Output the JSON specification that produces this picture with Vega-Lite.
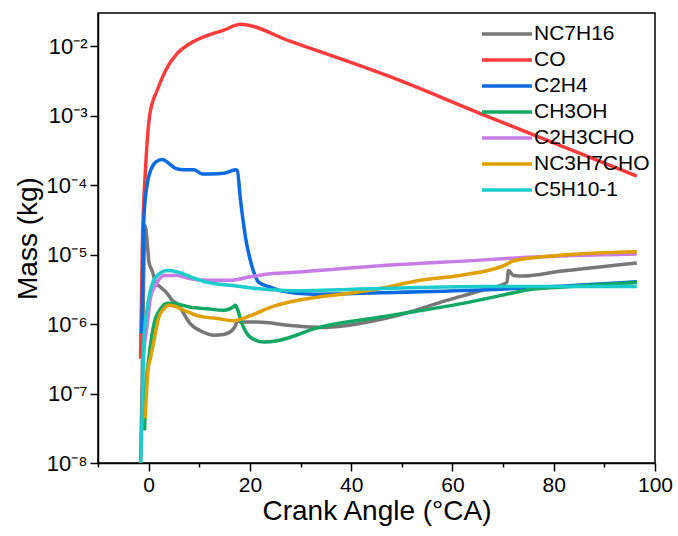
{
  "$schema": "https://vega.github.io/schema/vega-lite/v6.json",
  "width": 557,
  "height": 450,
  "autosize": {"type": "none"},
  "padding": {"left": 98, "top": 13, "right": 23, "bottom": 73},
  "background": "white",
  "config": {
    "font": "Liberation Sans",
    "view": {"stroke": "black", "strokeWidth": 1.5},
    "axis": {"grid": false, "domainColor": "black", "domainWidth": 1.5, "tickColor": "black", "tickWidth": 1.5, "labelColor": "black", "titleColor": "black", "labelFont": "Liberation Sans", "titleFont": "Liberation Sans", "titleFontWeight": "normal"}
  },
  "data": {
    "values": [
      {"s": "NC7H16", "x": -1.58, "y": 1.0e-8},
      {"s": "NC7H16", "x": -1.28, "y": 1.55e-7},
      {"s": "NC7H16", "x": -0.99, "y": 4.27e-6},
      {"s": "NC7H16", "x": -0.69, "y": 2.57e-5},
      {"s": "NC7H16", "x": -0.26, "y": 1.45e-5},
      {"s": "NC7H16", "x": 0.06, "y": 7.76e-6},
      {"s": "NC7H16", "x": 0.73, "y": 5.75e-6},
      {"s": "NC7H16", "x": 1.38, "y": 3.98e-6},
      {"s": "NC7H16", "x": 2.37, "y": 3.39e-6},
      {"s": "NC7H16", "x": 3.69, "y": 2.75e-6},
      {"s": "NC7H16", "x": 4.67, "y": 2.19e-6},
      {"s": "NC7H16", "x": 5.66, "y": 1.95e-6},
      {"s": "NC7H16", "x": 8.28, "y": 1.0e-6},
      {"s": "NC7H16", "x": 10.9, "y": 7.59e-7},
      {"s": "NC7H16", "x": 12.88, "y": 6.92e-7},
      {"s": "NC7H16", "x": 14.85, "y": 7.08e-7},
      {"s": "NC7H16", "x": 16.5, "y": 8.13e-7},
      {"s": "NC7H16", "x": 17.16, "y": 9.55e-7},
      {"s": "NC7H16", "x": 17.5, "y": 1.12e-6},
      {"s": "NC7H16", "x": 18.15, "y": 1.07e-6},
      {"s": "NC7H16", "x": 21.44, "y": 1.07e-6},
      {"s": "NC7H16", "x": 28.0, "y": 9.55e-7},
      {"s": "NC7H16", "x": 33.9, "y": 8.91e-7},
      {"s": "NC7H16", "x": 39.2, "y": 9.55e-7},
      {"s": "NC7H16", "x": 49.05, "y": 1.32e-6},
      {"s": "NC7H16", "x": 58.9, "y": 2.19e-6},
      {"s": "NC7H16", "x": 65.5, "y": 3.02e-6},
      {"s": "NC7H16", "x": 70.75, "y": 3.98e-6},
      {"s": "NC7H16", "x": 71.07, "y": 5.89e-6},
      {"s": "NC7H16", "x": 72.05, "y": 5.01e-6},
      {"s": "NC7H16", "x": 74.0, "y": 4.9e-6},
      {"s": "NC7H16", "x": 81.3, "y": 5.75e-6},
      {"s": "NC7H16", "x": 96.4, "y": 7.59e-6},

      {"s": "CO", "x": -1.6, "y": 3.16e-7},
      {"s": "CO", "x": -1.24, "y": 1.29e-5},
      {"s": "CO", "x": -0.59, "y": 1.82e-4},
      {"s": "CO", "x": 0.26, "y": 1.07e-3},
      {"s": "CO", "x": 1.72, "y": 2.34e-3},
      {"s": "CO", "x": 3.35, "y": 4.47e-3},
      {"s": "CO", "x": 5.66, "y": 7.85e-3},
      {"s": "CO", "x": 8.28, "y": 1.1e-2},
      {"s": "CO", "x": 10.9, "y": 1.36e-2},
      {"s": "CO", "x": 14.85, "y": 1.7e-2},
      {"s": "CO", "x": 18.15, "y": 2.06e-2},
      {"s": "CO", "x": 28.0, "y": 1.17e-2},
      {"s": "CO", "x": 47.7, "y": 3.63e-3},
      {"s": "CO", "x": 65.5, "y": 1.07e-3},
      {"s": "CO", "x": 96.4, "y": 1.35e-4},

      {"s": "C2H4", "x": -1.38, "y": 7.33e-7},
      {"s": "C2H4", "x": -1.24, "y": 2.19e-6},
      {"s": "C2H4", "x": -0.93, "y": 3.47e-5},
      {"s": "C2H4", "x": -0.26, "y": 1.05e-4},
      {"s": "C2H4", "x": 0.39, "y": 1.62e-4},
      {"s": "C2H4", "x": 1.38, "y": 2.14e-4},
      {"s": "C2H4", "x": 2.7, "y": 2.34e-4},
      {"s": "C2H4", "x": 3.69, "y": 2.14e-4},
      {"s": "C2H4", "x": 5.33, "y": 1.74e-4},
      {"s": "C2H4", "x": 6.96, "y": 1.66e-4},
      {"s": "C2H4", "x": 8.94, "y": 1.66e-4},
      {"s": "C2H4", "x": 10.59, "y": 1.45e-4},
      {"s": "C2H4", "x": 12.23, "y": 1.45e-4},
      {"s": "C2H4", "x": 14.85, "y": 1.48e-4},
      {"s": "C2H4", "x": 17.16, "y": 1.66e-4},
      {"s": "C2H4", "x": 17.5, "y": 1.62e-4},
      {"s": "C2H4", "x": 18.15, "y": 6.03e-5},
      {"s": "C2H4", "x": 19.13, "y": 1.78e-5},
      {"s": "C2H4", "x": 20.45, "y": 6.61e-6},
      {"s": "C2H4", "x": 21.76, "y": 3.98e-6},
      {"s": "C2H4", "x": 24.06, "y": 3.39e-6},
      {"s": "C2H4", "x": 26.04, "y": 3.02e-6},
      {"s": "C2H4", "x": 32.6, "y": 2.69e-6},
      {"s": "C2H4", "x": 45.8, "y": 2.82e-6},
      {"s": "C2H4", "x": 65.5, "y": 3.09e-6},
      {"s": "C2H4", "x": 96.4, "y": 4.07e-6},

      {"s": "CH3OH", "x": -0.79, "y": 2.95e-8},
      {"s": "CH3OH", "x": -0.59, "y": 1.1e-7},
      {"s": "CH3OH", "x": 0.06, "y": 3.31e-7},
      {"s": "CH3OH", "x": 1.05, "y": 1.0e-6},
      {"s": "CH3OH", "x": 2.37, "y": 1.66e-6},
      {"s": "CH3OH", "x": 3.69, "y": 2.0e-6},
      {"s": "CH3OH", "x": 5.66, "y": 1.95e-6},
      {"s": "CH3OH", "x": 8.28, "y": 1.74e-6},
      {"s": "CH3OH", "x": 11.58, "y": 1.66e-6},
      {"s": "CH3OH", "x": 14.85, "y": 1.58e-6},
      {"s": "CH3OH", "x": 16.77, "y": 1.78e-6},
      {"s": "CH3OH", "x": 17.16, "y": 1.86e-6},
      {"s": "CH3OH", "x": 17.5, "y": 1.66e-6},
      {"s": "CH3OH", "x": 18.48, "y": 1.0e-6},
      {"s": "CH3OH", "x": 20.1, "y": 6.46e-7},
      {"s": "CH3OH", "x": 22.74, "y": 5.5e-7},
      {"s": "CH3OH", "x": 25.4, "y": 5.75e-7},
      {"s": "CH3OH", "x": 28.0, "y": 6.46e-7},
      {"s": "CH3OH", "x": 32.6, "y": 8.51e-7},
      {"s": "CH3OH", "x": 45.8, "y": 1.26e-6},
      {"s": "CH3OH", "x": 61.5, "y": 1.95e-6},
      {"s": "CH3OH", "x": 71.4, "y": 2.75e-6},
      {"s": "CH3OH", "x": 74.7, "y": 3.09e-6},
      {"s": "CH3OH", "x": 81.3, "y": 3.39e-6},
      {"s": "CH3OH", "x": 96.4, "y": 3.98e-6},

      {"s": "C2H3CHO", "x": -1.08, "y": 3.02e-7},
      {"s": "C2H3CHO", "x": -0.93, "y": 4.17e-7},
      {"s": "C2H3CHO", "x": -0.26, "y": 1.0e-6},
      {"s": "C2H3CHO", "x": 0.39, "y": 2.45e-6},
      {"s": "C2H3CHO", "x": 1.38, "y": 3.63e-6},
      {"s": "C2H3CHO", "x": 3.02, "y": 5.01e-6},
      {"s": "C2H3CHO", "x": 5.66, "y": 5.01e-6},
      {"s": "C2H3CHO", "x": 8.28, "y": 4.47e-6},
      {"s": "C2H3CHO", "x": 11.58, "y": 4.27e-6},
      {"s": "C2H3CHO", "x": 16.17, "y": 4.27e-6},
      {"s": "C2H3CHO", "x": 20.1, "y": 4.79e-6},
      {"s": "C2H3CHO", "x": 24.06, "y": 5.31e-6},
      {"s": "C2H3CHO", "x": 28.0, "y": 5.5e-6},
      {"s": "C2H3CHO", "x": 45.8, "y": 6.92e-6},
      {"s": "C2H3CHO", "x": 65.5, "y": 8.32e-6},
      {"s": "C2H3CHO", "x": 74.7, "y": 9.12e-6},
      {"s": "C2H3CHO", "x": 96.4, "y": 1.02e-5},

      {"s": "NC3H7CHO", "x": -0.69, "y": 4.37e-8},
      {"s": "NC3H7CHO", "x": -0.39, "y": 1.1e-7},
      {"s": "NC3H7CHO", "x": -0.14, "y": 2.14e-7},
      {"s": "NC3H7CHO", "x": 0.39, "y": 3.31e-7},
      {"s": "NC3H7CHO", "x": 1.05, "y": 5.75e-7},
      {"s": "NC3H7CHO", "x": 2.03, "y": 1.26e-6},
      {"s": "NC3H7CHO", "x": 3.02, "y": 1.66e-6},
      {"s": "NC3H7CHO", "x": 4.0, "y": 1.86e-6},
      {"s": "NC3H7CHO", "x": 4.99, "y": 1.82e-6},
      {"s": "NC3H7CHO", "x": 6.96, "y": 1.58e-6},
      {"s": "NC3H7CHO", "x": 9.6, "y": 1.32e-6},
      {"s": "NC3H7CHO", "x": 13.55, "y": 1.2e-6},
      {"s": "NC3H7CHO", "x": 16.82, "y": 1.12e-6},
      {"s": "NC3H7CHO", "x": 20.1, "y": 1.32e-6},
      {"s": "NC3H7CHO", "x": 24.06, "y": 1.74e-6},
      {"s": "NC3H7CHO", "x": 28.0, "y": 2.09e-6},
      {"s": "NC3H7CHO", "x": 32.6, "y": 2.4e-6},
      {"s": "NC3H7CHO", "x": 39.2, "y": 2.75e-6},
      {"s": "NC3H7CHO", "x": 45.8, "y": 3.24e-6},
      {"s": "NC3H7CHO", "x": 53.6, "y": 4.27e-6},
      {"s": "NC3H7CHO", "x": 61.5, "y": 5.01e-6},
      {"s": "NC3H7CHO", "x": 70.75, "y": 7.24e-6},
      {"s": "NC3H7CHO", "x": 72.05, "y": 8.13e-6},
      {"s": "NC3H7CHO", "x": 81.3, "y": 9.77e-6},
      {"s": "NC3H7CHO", "x": 96.4, "y": 1.1e-5},

      {"s": "C5H10-1", "x": -1.58, "y": 1.0e-8},
      {"s": "C5H10-1", "x": -1.24, "y": 6.31e-8},
      {"s": "C5H10-1", "x": -0.93, "y": 5.75e-7},
      {"s": "C5H10-1", "x": -0.26, "y": 1.74e-6},
      {"s": "C5H10-1", "x": 0.73, "y": 3.8e-6},
      {"s": "C5H10-1", "x": 2.03, "y": 5.25e-6},
      {"s": "C5H10-1", "x": 3.69, "y": 5.89e-6},
      {"s": "C5H10-1", "x": 5.66, "y": 5.62e-6},
      {"s": "C5H10-1", "x": 8.28, "y": 4.79e-6},
      {"s": "C5H10-1", "x": 11.58, "y": 3.98e-6},
      {"s": "C5H10-1", "x": 16.17, "y": 3.63e-6},
      {"s": "C5H10-1", "x": 21.44, "y": 3.24e-6},
      {"s": "C5H10-1", "x": 28.0, "y": 3.02e-6},
      {"s": "C5H10-1", "x": 45.8, "y": 3.24e-6},
      {"s": "C5H10-1", "x": 65.5, "y": 3.47e-6},
      {"s": "C5H10-1", "x": 96.4, "y": 3.47e-6}
    ]
  },
  "mark": {"type": "line", "strokeWidth": 3.5, "clip": true, "interpolate": "monotone"},
  "encoding": {
    "x": {
      "field": "x", "type": "quantitative",
      "scale": {"domain": [-10, 100], "nice": false, "zero": false},
      "axis": {
        "title": "Crank Angle (°CA)", "titleFontSize": 28, "titlePadding": 2,
        "values": [-10, 0, 10, 20, 30, 40, 50, 60, 70, 80, 90, 100],
        "labelExpr": "datum.value % 20 === 0 ? datum.label : ''",
        "labelFontSize": 21, "labelPadding": 3, "labelFlush": false,
        "tickSize": {"condition": {"test": "datum.value % 20 === 0", "value": 8}, "value": 4}
      }
    },
    "y": {
      "field": "y", "type": "quantitative",
      "scale": {"type": "log", "domain": [1e-8, 0.03], "nice": false},
      "axis": {
        "title": "Mass (kg)", "titleFontSize": 28, "titlePadding": 4,
        "values": [1e-8, 1e-7, 1e-6, 1e-5, 1e-4, 1e-3, 1e-2],
        "labelExpr": "['10⁻⁸','10⁻⁷','10⁻⁶','10⁻⁵','10⁻⁴','10⁻³','10⁻²'][round(log(datum.value)/LN10)+8]",
        "labelFontSize": 22, "labelPadding": 3, "tickSize": 8
      }
    },
    "color": {
      "field": "s", "type": "nominal",
      "scale": {
        "domain": ["NC7H16", "CO", "C2H4", "CH3OH", "C2H3CHO", "NC3H7CHO", "C5H10-1"],
        "range": ["#777777", "#FF3B3B", "#0A6AE0", "#10A862", "#C87DE6", "#DFA000", "#1CCCCC"]
      },
      "legend": {
        "title": null, "orient": "none", "legendX": 397, "legendY": 9, "padding": 0,
        "symbolType": "M -2.5 0 H 2.5", "symbolSize": 400, "symbolStrokeWidth": 3.5,
        "labelFontSize": 21, "labelFont": "Liberation Sans", "labelColor": "black",
        "labelOffset": 15, "rowPadding": 4
      }
    }
  }
}
